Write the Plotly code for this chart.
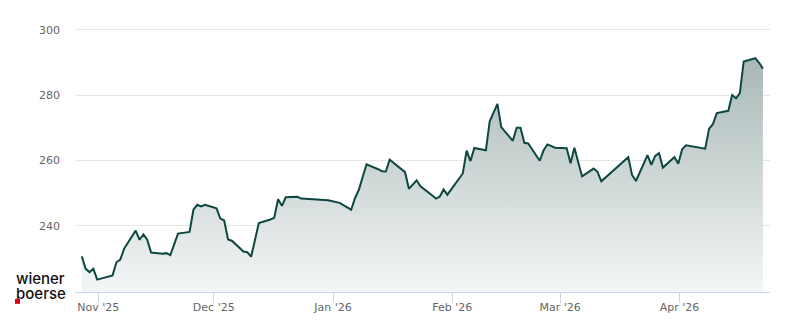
import pandas as pd
import plotly.graph_objects as go

dates = [
    "2025-10-27", "2025-10-28", "2025-10-29", "2025-10-30", "2025-10-31",
    "2025-11-03", "2025-11-04", "2025-11-05", "2025-11-06", "2025-11-07",
    "2025-11-10", "2025-11-11", "2025-11-12", "2025-11-13", "2025-11-14",
    "2025-11-17", "2025-11-18", "2025-11-19", "2025-11-20", "2025-11-21",
    "2025-11-24", "2025-11-25", "2025-11-26", "2025-11-27", "2025-11-28",
    "2025-12-01", "2025-12-02", "2025-12-03", "2025-12-04", "2025-12-05",
    "2025-12-08", "2025-12-09", "2025-12-10", "2025-12-12",
    "2025-12-15", "2025-12-16", "2025-12-17", "2025-12-18", "2025-12-19",
    "2025-12-22", "2025-12-23", "2025-12-29", "2025-12-30", "2026-01-02",
    "2026-01-05", "2026-01-06", "2026-01-07", "2026-01-08", "2026-01-09",
    "2026-01-12", "2026-01-13", "2026-01-14", "2026-01-15",
    "2026-01-19", "2026-01-20", "2026-01-22", "2026-01-23",
    "2026-01-26", "2026-01-27", "2026-01-28", "2026-01-29", "2026-01-30",
    "2026-02-03", "2026-02-04", "2026-02-05", "2026-02-06",
    "2026-02-09", "2026-02-10", "2026-02-12", "2026-02-13",
    "2026-02-16", "2026-02-17", "2026-02-18", "2026-02-19", "2026-02-20",
    "2026-02-23", "2026-02-24", "2026-02-25", "2026-02-27",
    "2026-03-02", "2026-03-03", "2026-03-04", "2026-03-06",
    "2026-03-09", "2026-03-10", "2026-03-11",
    "2026-03-18", "2026-03-19", "2026-03-20",
    "2026-03-23", "2026-03-24", "2026-03-25", "2026-03-26", "2026-03-27",
    "2026-03-30", "2026-03-31", "2026-04-01", "2026-04-02",
    "2026-04-07", "2026-04-08", "2026-04-09", "2026-04-10",
    "2026-04-13", "2026-04-14", "2026-04-15", "2026-04-16", "2026-04-17",
    "2026-04-20", "2026-04-21", "2026-04-22",
]
prices = [
    230.6, 226.8, 225.8, 226.8, 223.5,
    224.3, 224.8, 228.8, 229.6, 233.0,
    238.5, 235.7, 237.3, 235.7, 231.8,
    231.4, 231.6, 231.0, 234.6, 237.6,
    238.1, 244.9, 246.4, 245.9, 246.4,
    245.3, 242.2, 241.6, 235.8, 235.4,
    232.1, 231.9, 230.5, 240.8,
    241.9, 242.4, 248.1, 246.1, 248.7,
    248.9, 248.3, 248.0, 247.8, 247.0,
    244.9, 248.5, 251.0, 255.0, 258.8,
    257.3, 256.7, 256.6, 260.2,
    256.4, 251.3, 253.9, 252.1,
    249.3, 248.3, 248.9, 251.1, 249.5,
    256.0, 263.0, 259.8, 263.8,
    263.1, 272.0, 277.3, 270.2,
    266.0, 270.0, 270.0, 265.4, 265.2,
    259.9, 263.1, 264.9, 263.9,
    263.7, 259.1, 263.9, 255.1,
    257.5, 256.5, 253.6,
    261.0, 255.5, 253.7,
    261.6, 258.6, 261.4, 262.2, 257.8,
    261.0, 259.0, 263.4, 264.6,
    263.6, 269.7, 271.1, 274.5,
    275.2, 280.0, 279.0, 280.6, 290.3,
    291.3, 289.9, 288.1,
]
month_ticks = ["2025-11-01", "2025-12-01", "2026-01-01", "2026-02-01", "2026-03-01", "2026-04-01"]
month_labels = ["Nov '25", "Dec '25", "Jan '26", "Feb '26", "Mar '26", "Apr '26"]
y_ticks = [240, 260, 280, 300]
logo_lines = ["wiener", "boerse"]

x = pd.to_datetime(dates) + pd.Timedelta(hours=17)

W, H = 800, 324
L, R, T, B = 75, 30, 10, 29
PW, PH = W - L - R, H - T - B


def px(xp):
    return (xp - L) / PW


def py(yp):
    return (H - B - yp) / PH


fig = go.Figure()
fig.add_trace(go.Scatter(
    x=x, y=prices, mode="lines",
    line=dict(color="#0e4741", width=2),
    fill="tozeroy",
    fillgradient=dict(type="vertical",
                      colorscale=[[0, "#f5f7f7"], [1, "#a4b5b3"]],
                      start=219.7, stop=295),
    hoverinfo="skip",
))

fig.update_layout(
    width=W, height=H,
    margin=dict(l=L, r=R, t=T, b=B),
    paper_bgcolor="white", plot_bgcolor="white",
    showlegend=False,
    font=dict(family="DejaVu Sans", size=11, color="#666666"),
    xaxis=dict(
        type="date",
        range=["2025-10-25 22:30", "2026-04-24 13:00"],
        tickvals=month_ticks, ticktext=month_labels,
        ticks="outside", ticklen=10, tickcolor="#ccd6eb", tickwidth=1,
        showline=True, linecolor="#ccd6eb", linewidth=1,
        showgrid=False, zeroline=False,
        tickfont=dict(family="DejaVu Sans", size=11, color="#666666"),
        ticklabelstandoff=-5,
    ),
    yaxis=dict(
        range=[219.7, 306.06],
        tickvals=y_ticks,
        showgrid=True, gridcolor="#e6e6e6", gridwidth=1,
        zeroline=False, showline=False, ticks="",
        tickfont=dict(family="DejaVu Sans", size=11, color="#666666"),
        ticklabelstandoff=14,
    ),
)

logo_text = "<br>".join('<span style="font-size:15px">%s</span>' % s for s in logo_lines)
fig.add_annotation(text=logo_text, xref="paper", yref="paper",
                   x=px(13.5), y=py(288.5), xanchor="left", yanchor="middle",
                   align="left", showarrow=False,
                   font=dict(family="Inter", size=11.6, color="#111111", weight=500))
fig.add_shape(type="rect", xref="paper", yref="paper",
              x0=px(15), x1=px(20), y0=py(307), y1=py(302),
              fillcolor="#e2001a", line=dict(width=0))

fig.write_html("out.html")
